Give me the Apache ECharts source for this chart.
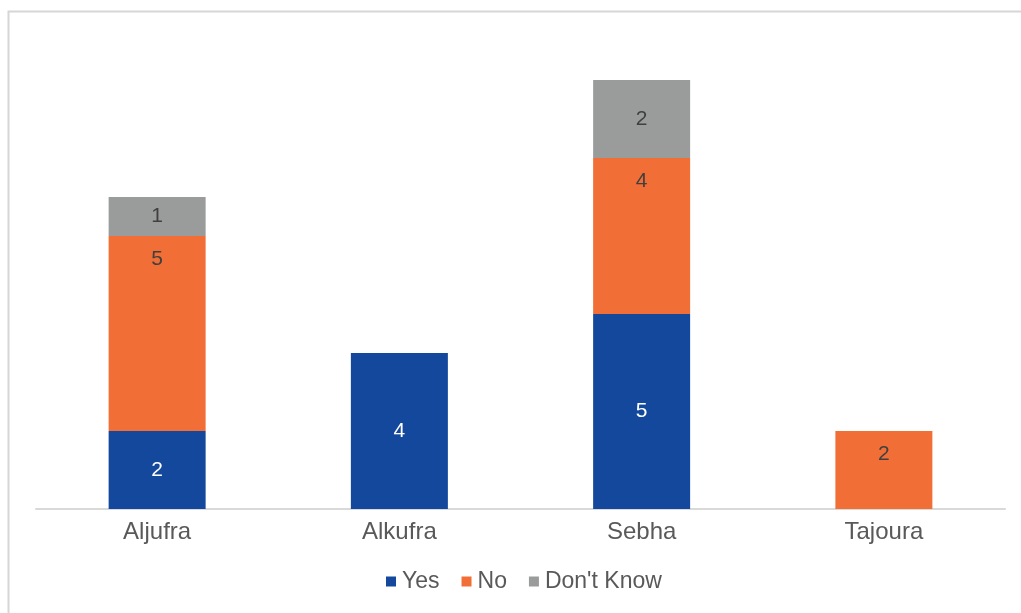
<!DOCTYPE html>
<html>
<head>
<meta charset="utf-8">
<script src="https://cdn.jsdelivr.net/npm/echarts@6/dist/echarts.min.js"></script>
<style>html,body{margin:0;padding:0;background:#fff;}#c{width:1021px;height:613px;}</style>
</head>
<body>
<div id="c"></div>
<script>
const categories = ['Aljufra', 'Alkufra', 'Sebha', 'Tajoura'];
const yesValues = [2, 4, 5, null];
const noValues = [5, null, 4, 2];
const dontKnowValues = [1, null, 2, null];

const chart = echarts.init(document.getElementById('c'), null, {renderer: 'canvas'});
const font = '"Liberation Sans", Arial, sans-serif';
function lbl(color, pos, dist) {
  const o = {show: true, color: color, fontSize: 21, fontFamily: font, position: pos};
  if (dist !== undefined) o.distance = dist;
  return o;
}
chart.setOption({
  animation: false,
  backgroundColor: '#fff',
  graphic: [{
    type: 'rect', left: 6, top: 9, z: -1,
    shape: {width: 1030, height: 620},
    style: {fill: 'none', stroke: '#d6d6d6', lineWidth: 2}
  }],
  grid: {left: 36, right: 16, top: 41, bottom: 104},
  legend: {
    bottom: 15, left: 381,
    itemWidth: 10, itemHeight: 10, itemGap: 22,
    icon: 'rect',
    textStyle: {color: '#595959', fontSize: 23, fontFamily: font, padding: [0, 0, 0, 1]},
    data: ['Yes', 'No', "Don't Know"]
  },
  xAxis: {
    type: 'category', data: categories,
    axisLine: {lineStyle: {color: '#d9d9d9', width: 2}},
    axisTick: {show: false},
    axisLabel: {color: '#595959', fontSize: 24, fontFamily: font, margin: 11}
  },
  yAxis: {
    type: 'value', min: 0, max: 12,
    show: false, splitLine: {show: false}
  },
  series: [
    {name: 'Yes', type: 'bar', stack: 't', data: yesValues, barWidth: 97,
     itemStyle: {color: '#13489c'}, label: lbl('#ffffff', 'inside')},
    {name: 'No', type: 'bar', stack: 't', data: noValues, barWidth: 97,
     itemStyle: {color: '#f26e37'}, label: lbl('#404040', 'insideTop', 13)},
    {name: "Don't Know", type: 'bar', stack: 't', data: dontKnowValues, barWidth: 97,
     itemStyle: {color: '#9a9b9b'}, label: lbl('#404040', 'inside')}
  ]
});
</script>
</body>
</html>
